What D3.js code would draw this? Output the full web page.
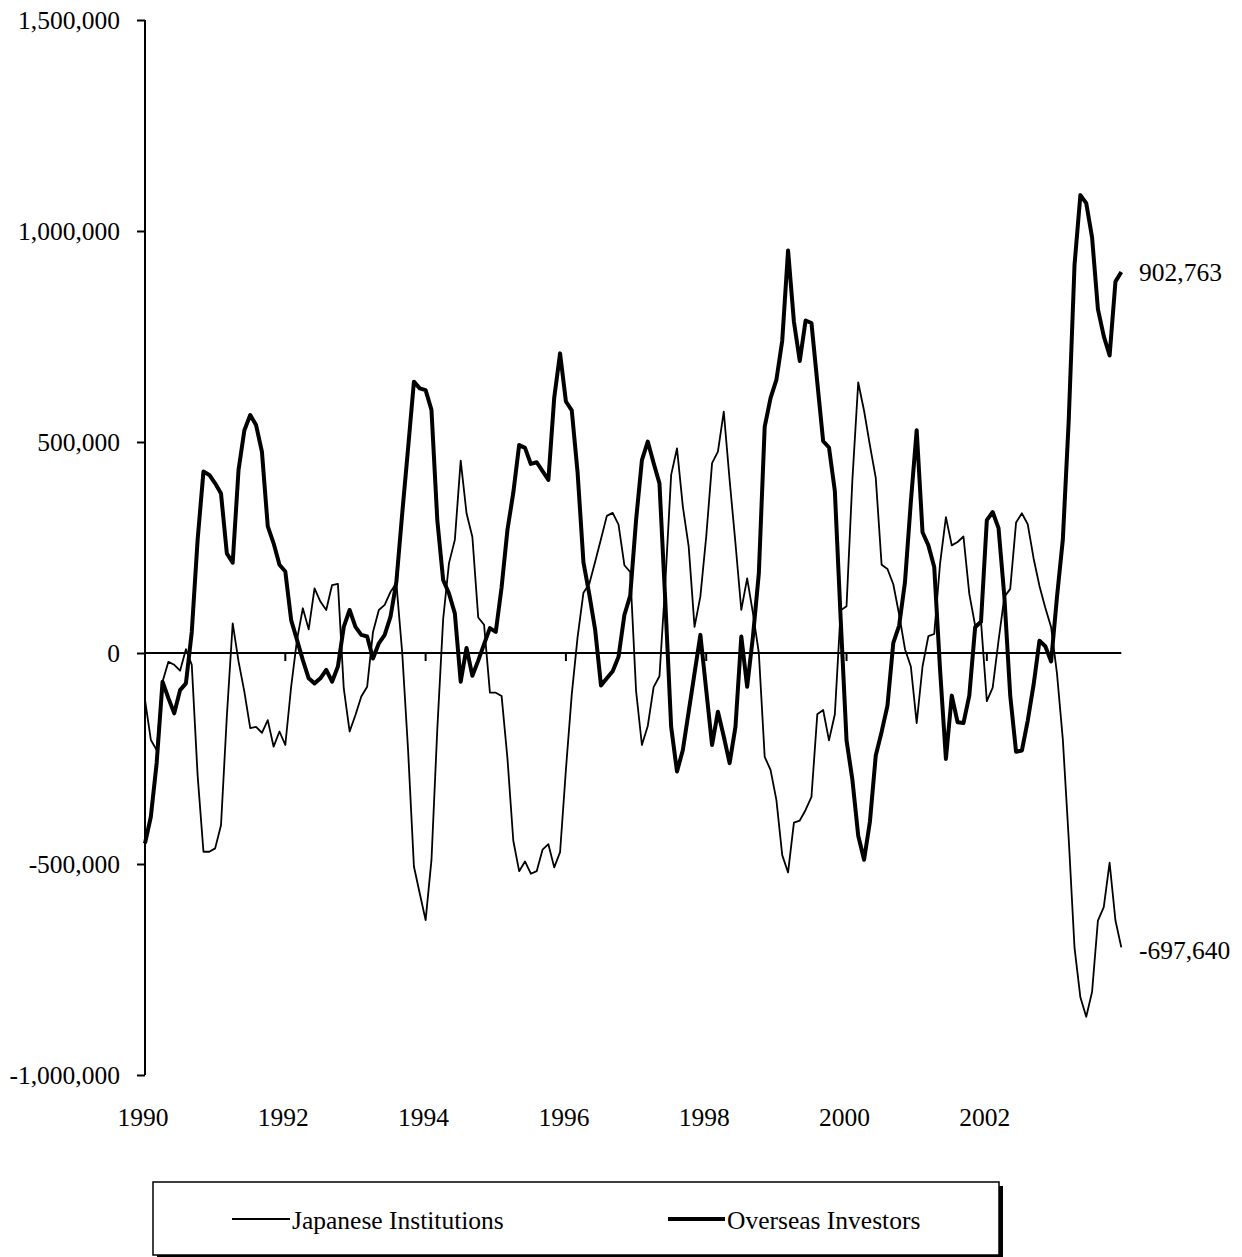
<!DOCTYPE html>
<html>
<head>
<meta charset="utf-8">
<script src="https://cdn.jsdelivr.net/npm/d3@7"></script>
<style>
  html, body { margin: 0; padding: 0; background: #ffffff; }
  svg { display: block; }
  text { font-family: "Liberation Serif", "Times New Roman", serif; fill: #000; }
</style>
</head>
<body>
<svg id="chart" width="1242" height="1257"></svg>
<script>
// Monthly categories, January 1990 to December 2003
const months = d3.timeMonth
  .range(new Date(1990, 0, 1), new Date(2004, 0, 1))
  .map(d3.timeFormat("%Y-%m"));

// Net purchases (one value per month, one row per year)
const japaneseInstitutions = [
  -111000, -206000, -230000, -68000, -21000, -28000, -42000, 9000, -28000, -290000, -471000, -471000,
  -463000, -408000, -150000, 70000, -20000, -92000, -178000, -175000, -189000, -159000, -222000, -186000,
  -218000, -80000, 31000, 106000, 56000, 153000, 122000, 102000, 161000, 164000, -84000, -186000,
  -147000, -103000, -80000, 50000, 102000, 114000, 145000, 165000, 0, -230000, -506000, -570000,
  -633000, -491000, -180000, 80000, 213000, 268000, 456000, 331000, 275000, 84000, 67000, -94000,
  -94000, -102000, -250000, -445000, -517000, -494000, -523000, -517000, -466000, -453000, -508000, -472000,
  -276000, -98000, 38000, 143000, 164000, 216000, 270000, 325000, 332000, 304000, 208000, 192000,
  -90000, -218000, -173000, -81000, -55000, 166000, 422000, 485000, 347000, 252000, 62000, 134000,
  276000, 450000, 477000, 572000, 410000, 260000, 102000, 177000, 94000, 0, -246000, -277000,
  -348000, -479000, -520000, -402000, -397000, -372000, -341000, -145000, -135000, -207000, -145000, 101000,
  111000, 410000, 641000, 574000, 492000, 415000, 209000, 199000, 163000, 91000, 9000, -32000,
  -166000, -32000, 40000, 45000, 212000, 322000, 255000, 263000, 276000, 140000, 65000, 75000,
  -114000, -82000, 29000, 133000, 152000, 309000, 331000, 305000, 224000, 159000, 107000, 61000,
  -49000, -205000, -439000, -699000, -816000, -862000, -803000, -634000, -602000, -497000, -634000, -697640
];

const overseasInvestors = [
  -451000, -388000, -260000, -68000, -107000, -143000, -88000, -72000, 50000, 268000, 430000, 422000,
  402000, 378000, 236000, 214000, 434000, 528000, 564000, 540000, 477000, 300000, 260000, 209000,
  193000, 78000, 31000, -17000, -60000, -72000, -60000, -40000, -68000, -32000, 62000, 102000,
  62000, 43000, 39000, -13000, 23000, 43000, 86000, 169000, 331000, 485000, 643000, 627000,
  623000, 576000, 315000, 173000, 141000, 94000, -68000, 12000, -54000, -18000, 21000, 59000,
  50000, 156000, 292000, 380000, 493000, 486000, 448000, 452000, 431000, 410000, 605000, 710000,
  596000, 575000, 427000, 215000, 139000, 55000, -77000, -60000, -43000, -9000, 90000, 136000,
  315000, 457000, 501000, 450000, 402000, 122000, -175000, -281000, -230000, -139000, -48000, 43000,
  -88000, -218000, -139000, -198000, -261000, -175000, 39000, -80000, 40000, 189000, 536000, 604000,
  647000, 740000, 954000, 785000, 692000, 788000, 782000, 641000, 502000, 487000, 384000, 80000,
  -207000, -300000, -433000, -490000, -400000, -243000, -187000, -125000, 24000, 65000, 168000, 358000,
  528000, 286000, 255000, 204000, -40000, -251000, -101000, -164000, -166000, -101000, 61000, 74000,
  315000, 334000, 296000, 133000, -101000, -234000, -231000, -160000, -75000, 29000, 16000, -20000,
  133000, 269000, 549000, 920000, 1085000, 1066000, 985000, 815000, 751000, 705000, 880000, 902763
];

// Axis ticks
const yTickValues = [-1000000, -500000, 0, 500000, 1000000, 1500000];
const xTickMonths = ["1990-01", "1992-01", "1994-01", "1996-01", "1998-01", "2000-01", "2002-01"];
const xTickLabels = ["1990", "1992", "1994", "1996", "1998", "2000", "2002"];

const seriesNames = ["Japanese Institutions", "Overseas Investors"];

// ---- drawing ----
const FONT = 25.5;
const svg = d3.select("#chart");
const fmt = d3.formatLocale({ decimal: ".", thousands: ",", grouping: [3], currency: ["", ""], minus: "-" }).format(",.0f");

const x = d3.scalePoint().domain(months).range([145, 1121.3]);
const y = d3.scaleLinear().domain([-1000000, 1500000]).range([1075, 20]);

// y axis
const yAxis = d3.axisLeft(y)
  .tickValues(yTickValues)
  .tickFormat(fmt)
  .tickSize(8)
  .tickPadding(17);
const gy = svg.append("g").attr("transform", "translate(145,0)").call(yAxis);
gy.select(".domain").attr("stroke", "#000").attr("stroke-width", 2).attr("d", "M0,20V1075");
gy.selectAll(".tick line").attr("stroke", "#000").attr("stroke-width", 2);
gy.selectAll(".tick text")
  .attr("font-family", "Liberation Serif, Times New Roman, serif")
  .attr("font-size", FONT)
  .attr("fill", "#000");

// zero line (category axis) with tick marks every two years
const zeroY = y(0);
svg.append("line")
  .attr("x1", x(months[0])).attr("x2", x(months[months.length - 1]))
  .attr("y1", zeroY).attr("y2", zeroY)
  .attr("stroke", "#000").attr("stroke-width", 2);
svg.append("g").selectAll("line")
  .data(xTickMonths.slice(1))
  .join("line")
  .attr("x1", d => x(d)).attr("x2", d => x(d))
  .attr("y1", zeroY).attr("y2", zeroY + 8)
  .attr("stroke", "#000").attr("stroke-width", 2);

// year labels along the bottom
svg.append("g").selectAll("text")
  .data(xTickMonths)
  .join("text")
  .attr("x", d => x(d) - 2)
  .attr("y", 1117)
  .attr("text-anchor", "middle")
  .attr("dominant-baseline", "central")
  .attr("font-size", FONT)
  .text((d, i) => xTickLabels[i]);

// series lines
const series = [
  { name: seriesNames[0], values: japaneseInstitutions, width: 1.8 },
  { name: seriesNames[1], values: overseasInvestors, width: 4 }
];
const line = d3.line()
  .x((d, i) => x(months[i]))
  .y(d => y(d))
  .curve(d3.curveLinear);

svg.append("g").selectAll("path")
  .data(series)
  .join("path")
  .attr("d", s => line(s.values))
  .attr("fill", "none")
  .attr("stroke", "#000")
  .attr("stroke-width", s => s.width)
  .attr("stroke-linejoin", "round");

// end-of-series value labels
svg.append("g").selectAll("text")
  .data(series)
  .join("text")
  .attr("x", 1139)
  .attr("y", s => y(s.values[s.values.length - 1]) + (s.values[s.values.length - 1] < 0 ? 3 : 0))
  .attr("dominant-baseline", "central")
  .attr("font-size", FONT)
  .text(s => fmt(s.values[s.values.length - 1]));

// legend with drop shadow
const lg = svg.append("g");
lg.append("rect")
  .attr("x", 157).attr("y", 1186).attr("width", 846).attr("height", 73)
  .attr("fill", "#000");
lg.append("rect")
  .attr("x", 153).attr("y", 1182).attr("width", 846).attr("height", 73)
  .attr("fill", "#fff").attr("stroke", "#000").attr("stroke-width", 1.5);

const legendItems = [
  { s: series[0], x0: 232, x1: 290, tx: 292 },
  { s: series[1], x0: 668, x1: 725, tx: 727 }
];
legendItems.forEach(it => {
  lg.append("line")
    .attr("x1", it.x0).attr("x2", it.x1)
    .attr("y1", 1219).attr("y2", 1219)
    .attr("stroke", "#000").attr("stroke-width", it.s.width);
  lg.append("text")
    .attr("x", it.tx).attr("y", 1220)
    .attr("dominant-baseline", "central")
    .attr("font-size", FONT)
    .text(it.s.name);
});
</script>
</body>
</html>
